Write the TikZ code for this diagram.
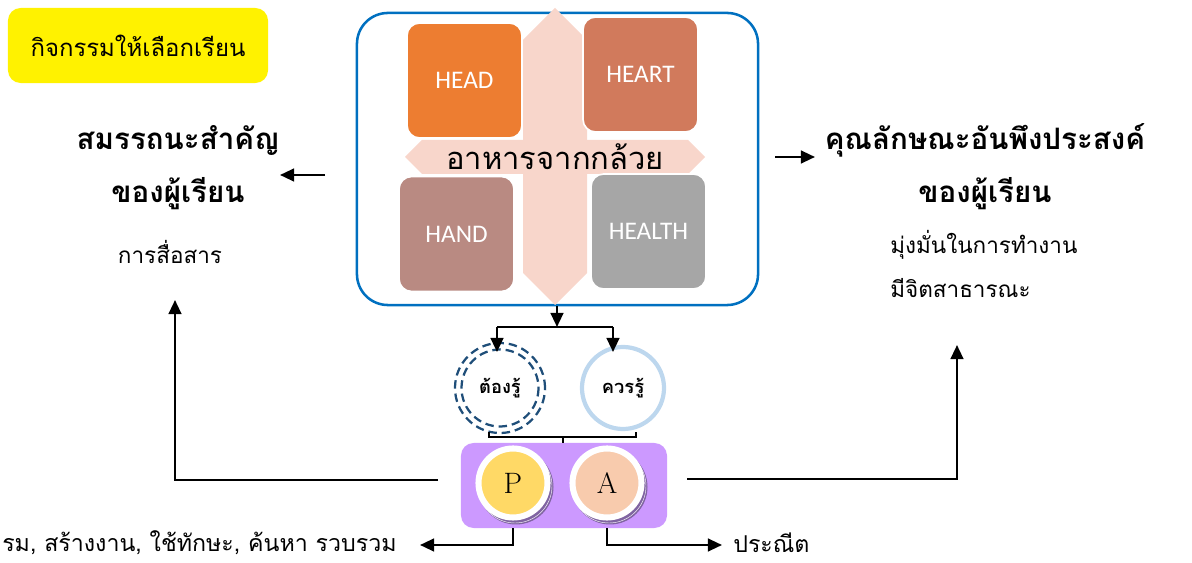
\documentclass[tikz,border=0pt]{standalone}
\usepackage{fontspec}
\newfontfamily\thai[Script=Thai]{Loma}
\newfontfamily\calfont{Carlito}
\usetikzlibrary{arrows.meta,positioning}
\definecolor{boxblue}{RGB}{0,112,192}
\definecolor{crosspink}{RGB}{248,214,203}
\definecolor{headc}{RGB}{237,125,49}
\definecolor{heartc}{RGB}{209,122,92}
\definecolor{handc}{RGB}{185,138,130}
\definecolor{healthc}{RGB}{166,166,166}
\definecolor{mustc}{RGB}{31,78,121}
\definecolor{shouldc}{RGB}{189,215,238}
\definecolor{pabg}{RGB}{204,153,255}
\definecolor{shadowc}{RGB}{128,100,162}
\definecolor{pfill}{RGB}{255,217,102}
\definecolor{afill}{RGB}{248,203,173}

\begin{document}
\begin{tikzpicture}[x=0.025cm,y=-0.025cm,
    quad/.style={rounded corners=9pt,draw=white,line width=1.2pt,minimum size=2.875cm,
      inner sep=0pt,text=white,font=\calfont\fontsize{18}{20}\selectfont},
    bigtitle/.style={inner sep=0pt,font=\thai\bfseries\fontsize{21}{24}\selectfont},
    plain/.style={inner sep=0pt,font=\thai\fontsize{16}{19}\selectfont},
    lower/.style={inner sep=0pt,font=\thai\fontsize{16.5}{19}\selectfont},
    pa/.style={circle,draw=white,line width=4.3pt,minimum size=1.725cm,inner sep=0pt,
      font=\fontsize{21}{24}\selectfont},
    arr/.style={line width=1.7pt,-{Triangle[length=10pt,width=9pt]}},
    thin/.style={line width=0.8pt}]
\useasboundingbox (0,0) rectangle (1192,563);

% title box
\node[fill=yellow,rounded corners=9pt,minimum width=6.5cm,minimum height=1.875cm,
  font=\thai\fontsize{17}{20}\selectfont] (choice) at (138,45.5) {กิจกรรมให้เลือกเรียน};

% left side
\node[bigtitle] (coreA) at (178,140) {สมรรถนะสำคัญ};
\node[bigtitle] (coreB) at (178,194) {ของผู้เรียน};
\node[plain] (coreC) at (170,252) {การสื่อสาร};

% right side
\node[bigtitle] (attrA) at (985,140) {คุณลักษณะอันพึงประสงค์};
\node[bigtitle] (attrB) at (985,194) {ของผู้เรียน};
\node[plain,anchor=west] (attrC) at (890,245) {มุ่งมั่นในการทำงาน};
\node[plain,anchor=west] (attrD) at (890,288) {มีจิตสาธารณะ};

% main box
\node[draw=boxblue,line width=1.8pt,rounded corners=22pt,minimum width=10.025cm,
  minimum height=7.3cm] (main) at (557.5,159) {};
\fill[crosspink] (555,8) -- (587,40) -- (587,273) -- (555,305) -- (523,273) -- (523,40) -- cycle;
\fill[crosspink] (405,157) -- (422,140) -- (688,140) -- (705,157) -- (688,174) -- (422,174) -- cycle;
\node[quad,fill=headc] (head) at (464.5,80.5) {HEAD};
\node[quad,fill=heartc] (heart) at (640.5,74.5) {HEART};
\node[quad,fill=handc] (hand) at (456.5,234) {HAND};
\node[quad,fill=healthc] (health) at (648.5,231.5) {HEALTH};
\node[inner sep=0pt,font=\thai\fontsize{22}{26}\selectfont] (food) at (555,157) {อาหารจากกล้วย};

% must / should know
\node[circle,draw=mustc,line width=1.6pt,dash pattern=on 6pt off 3.5pt,minimum size=2.25cm] (must) at (500,388) {};
\draw[mustc,line width=1.6pt,dash pattern=on 6pt off 3.5pt] (must.center) circle (38.5);
\node[font=\thai\bfseries\fontsize{13}{15}\selectfont,inner sep=0pt] (mustT) at (must.center) {ต้องรู้};
\node[circle,draw=shouldc,line width=3pt,minimum size=2.05cm,
  font=\thai\bfseries\fontsize{13}{15}\selectfont] (should) at (623,388) {ควรรู้};

% P A box
\node[fill=pabg,rounded corners=9pt,minimum width=5.15cm,minimum height=2.125cm] (pabox) at (564,485.5) {};
\fill[shadowc] (516,487) circle (37.5);
\fill[shadowc] (610,487) circle (37.5);
\draw[white,line width=0.3pt] (515,486) circle (37);
\draw[white,line width=0.3pt] (609,486) circle (37);
\node[pa,fill=pfill] (p) at (513,483) {P};
\node[pa,fill=afill] (a) at (607,483) {A};

\node[lower,anchor=east] (pText) at (397,543) {รม, สร้างงาน, ใช้ทักษะ, ค้นหา รวบรวม};
\node[lower,anchor=west] (aText) at (733,543) {ประณีต};

% connectors
\coordinate (split) at (557,327);
\draw[arr] (main.south -| split) -- (split);
\draw[thin] (497,327) -- (613,327);
\draw[arr] (497,327) -- (497,352);
\draw[arr] (613,327) -- (613,352);
\draw[thin] (489,432) -- (489,437) -- (636,437) -- (636,432);
\draw[thin] (563,437) -- (pabox.north -| 563,0);

\coordinate (lArr) at (175,300);
\coordinate (rArr) at (957,345);
\draw[arr] ([xshift=-16]pabox.west |- 0,480) -| (lArr);
\draw[arr] ([xshift=14]pabox.east |- 0,479) -| (rArr);

\coordinate (pEnd) at (420,545);
\coordinate (aEnd) at (722,545);
\draw[arr] (pabox.south -| 513,0) |- (pEnd);
\draw[arr] (pabox.south -| 607,0) |- (aEnd);

\coordinate (coreIn) at (280,175);
\coordinate (attrIn) at (815,157);
\draw[arr] (325,175) -- (coreIn);
\draw[arr] (775,157) -- (attrIn);
\end{tikzpicture}
\end{document}
